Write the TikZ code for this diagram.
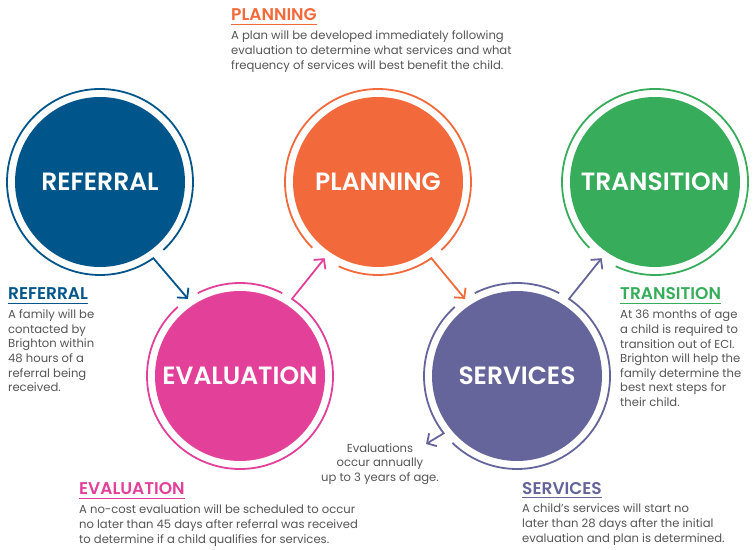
\documentclass[tikz,border=0pt]{standalone}
\usepackage{fontspec}
\setmainfont{Poppins}[BoldFont={Poppins SemiBold}]
\usepackage{tikz}
\usetikzlibrary{arrows.meta,positioning}
\definecolor{refblue}{HTML}{00558A}
\definecolor{evapink}{HTML}{E3409A}
\definecolor{plaorange}{HTML}{F26A3B}
\definecolor{serpurple}{HTML}{65659B}
\definecolor{tragreen}{HTML}{37AD5B}
\definecolor{notegray}{HTML}{555555}
\tikzset{disc node/.style={circle, fill=#1, text=white, minimum size=170pt,
    inner sep=0pt, font=\bfseries\fontsize{25}{29}\selectfont}}
\tikzset{ring node/.style={circle, minimum size=186pt, inner sep=0pt, outer sep=0pt}}
\tikzset{ring edge/.style={draw=#1, line width=1.8pt}}
\tikzset{flow edge/.style={ring edge=#1, -{Straight Barb[length=7pt,width=15pt]}}}
\tikzset{head node/.style={anchor=base west, inner sep=0pt, text=#1,
    font=\bfseries\fontsize{17}{19}\selectfont}}
\tikzset{head rule/.style={draw=#1, line width=0.9pt}}
\tikzset{note node/.style={inner sep=0pt, text=notegray, align=left,
    font=\fontsize{11.6}{14.6}\selectfont}}

\begin{document}
\begin{tikzpicture}
      [x=1pt, y=1pt]
      \useasboundingbox (0, 0) rectangle (755, 549);
      % stages
      \node [disc node=refblue]   (ref)     at (100, 367) {REFERRAL};
      \node [disc node=evapink]   (eva)     at (240, 173) {EVALUATION};
      \node [disc node=plaorange] (pla)     at (378, 367) {PLANNING};
      \node [disc node=serpurple] (ser)     at (517, 173) {SERVICES};
      \node [disc node=tragreen]  (tra)     at (655, 367) {TRANSITION};
      \node [ring node]           (refring) at (ref) {};
      \node [ring node]           (evaring) at (eva) {};
      \node [ring node]           (plaring) at (pla) {};
      \node [ring node]           (serring) at (ser) {};
      \node [ring node]           (trarung) at (tra) {};
      \coordinate                 (annualtip) at (426, 105);

      % rings and arrows
      \draw [flow edge=refblue]   (refring.-47) arc [start angle=-47, end angle=305, radius=93pt] to (evaring.124);
      \draw [ring edge=evapink]   (evaring.63)  arc [start angle=63,  end angle=117, radius=93pt];
      \draw [flow edge=evapink]   (evaring.132) arc [start angle=132, end angle=416, radius=93pt] to (plaring.235);
      \draw [ring edge=plaorange] (plaring.-47) arc [start angle=-47, end angle=225, radius=93pt];
      \draw [flow edge=plaorange] (plaring.245) arc [start angle=245, end angle=305, radius=93pt] to (serring.124);
      \draw [ring edge=serpurple] (serring.63)  arc [start angle=63,  end angle=117, radius=93pt];
      \draw [flow edge=serpurple] (serring.132) arc [start angle=132, end angle=218, radius=93pt] to (annualtip);
      \draw [flow edge=serpurple] (serring.226) arc [start angle=226, end angle=416, radius=93pt] to (trarung.235);
      \draw [ring edge=tragreen]  (trarung.245) arc [start angle=245, end angle=585, radius=93pt];

      % notes
      \node [head node=plaorange] (plahead) at (231, 528) {PLANNING};
      \draw [head rule=plaorange] ([yshift=-3.5pt]plahead.south west) to ([yshift=-3.5pt]plahead.south east);
      \node [note node, below right=9.5pt and 0pt of plahead.south west] (platext)
            {A plan will be developed immediately following\\evaluation to determine what services and what\\frequency of services will best benefit the child.};

      \node [head node=refblue] (refhead) at (8, 249) {REFERRAL};
      \draw [head rule=refblue] ([yshift=-3.5pt]refhead.south west) to ([yshift=-3.5pt]refhead.south east);
      \node [note node, below right=9.5pt and 0pt of refhead.south west] (reftext)
            {A family will be\\contacted by\\Brighton within\\48 hours of a\\referral being\\received.};

      \node [head node=evapink] (evahead) at (79, 54) {EVALUATION};
      \draw [head rule=evapink] ([yshift=-3.5pt]evahead.south west) to ([yshift=-3.5pt]evahead.south east);
      \node [note node, below right=9.5pt and 0pt of evahead.south west] (evatext)
            {A no-cost evaluation will be scheduled to occur\\no later than 45 days after referral was received\\to determine if a child qualifies for services.};

      \node [head node=serpurple] (serhead) at (522, 55) {SERVICES};
      \draw [head rule=serpurple] ([yshift=-3.5pt]serhead.south west) to ([yshift=-3.5pt]serhead.south east);
      \node [note node, below right=9.5pt and 0pt of serhead.south west] (sertext)
            {A child’s services will start no\\later than 28 days after the initial\\evaluation and plan is determined.};

      \node [head node=tragreen] (trahead) at (620, 249) {TRANSITION};
      \draw [head rule=tragreen] ([yshift=-3.5pt]trahead.south west) to ([yshift=-3.5pt]trahead.south east);
      \node [note node, below right=9.5pt and 0pt of trahead.south west] (tratext)
            {At 36 months of age\\a child is required to\\transition out of ECI.\\Brighton will help the\\family determine the\\best next steps for\\their child.};

      \node [note node, align=center, anchor=north] (annualtext) at (380, 106)
            {Evaluations\\occur annually\\up to 3 years of age.};
    \end{tikzpicture}
\end{document}
